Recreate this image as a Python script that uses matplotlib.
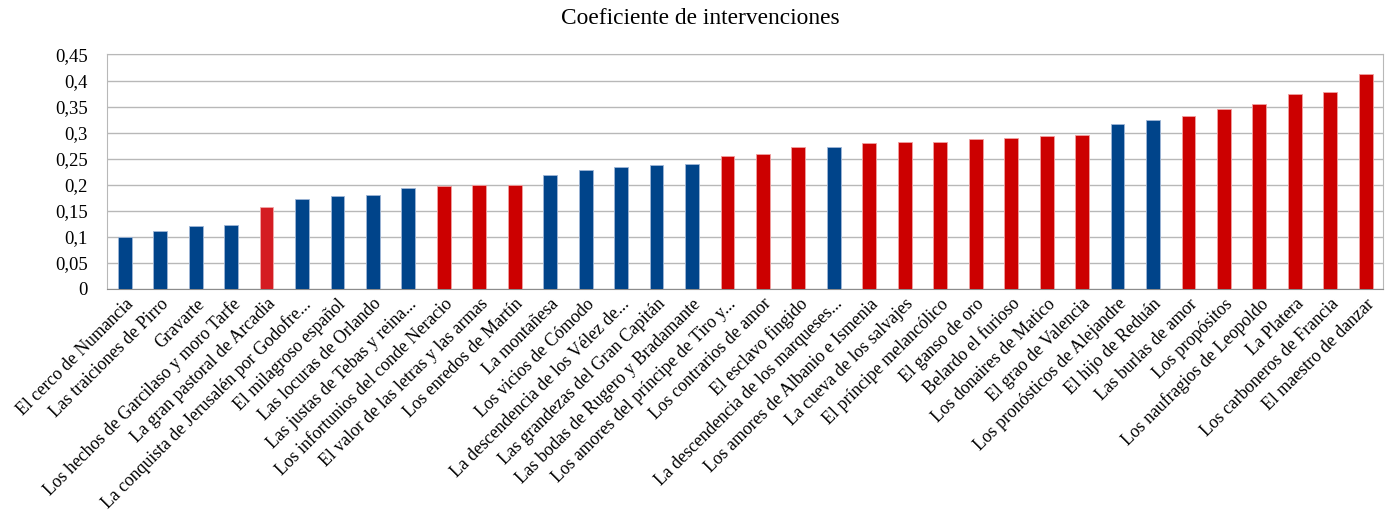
import matplotlib.pyplot as plt
from matplotlib.ticker import MultipleLocator, FuncFormatter

titles = [
    "El cerco de Numancia", "Las traiciones de Pirro", "Gravarte",
    "Los hechos de Garcilaso y moro Tarfe", "La gran pastoral de Arcadia",
    "La conquista de Jerusalén por Godofre...", "El milagroso español",
    "Las locuras de Orlando", "Las justas de Tebas y reina...",
    "Los infortunios del conde Neracio", "El valor de las letras y las armas",
    "Los enredos de Martín", "La montañesa", "Los vicios de Cómodo",
    "La descendencia de los Vélez de...", "Las grandezas del Gran Capitán",
    "Las bodas de Rugero y Bradamante", "Los amores del príncipe de Tiro y...",
    "Los contrarios de amor", "El esclavo fingido",
    "La descendencia de los marqueses...", "Los amores de Albanio e Ismenia",
    "La cueva de los salvajes", "El príncipe melancólico", "El ganso de oro",
    "Belardo el furioso", "Los donaires de Matico", "El grao de Valencia",
    "Los pronósticos de Alejandre", "El hijo de Reduán", "Las burlas de amor",
    "Los propósitos", "Los naufragios de Leopoldo", "La Platera",
    "Los carboneros de Francia", "El maestro de danzar",
]
coef = [
    0.100, 0.110, 0.120, 0.123, 0.156, 0.172, 0.177, 0.179, 0.194, 0.197,
    0.200, 0.200, 0.219, 0.227, 0.233, 0.237, 0.240, 0.255, 0.258, 0.272,
    0.272, 0.280, 0.282, 0.282, 0.288, 0.290, 0.293, 0.295, 0.317, 0.324,
    0.331, 0.345, 0.354, 0.374, 0.378, 0.412,
]
# grupo de cada obra: "a" azul, "r" rojo, "r2" rojo claro
grupo = [
    "a", "a", "a", "a", "r2", "a", "a", "a", "a", "r",
    "r", "r", "a", "a", "a", "a", "a", "r", "r", "r",
    "a", "r", "r", "r", "r", "r", "r", "r", "a", "a",
    "r", "r", "r", "r", "r", "r",
]

colores = {"a": "#00448a", "r": "#cc0000", "r2": "#d41c22"}
bordes = {"a": "#9fb6d6", "r": "#f0a0a0", "r2": "#f0a8a8"}

plt.rcParams["font.family"] = ["Liberation Serif", "DejaVu Serif"]

fig, ax = plt.subplots(figsize=(13.89, 5.19), dpi=100)
fig.subplots_adjust(left=0.077, right=0.996, top=0.895, bottom=0.444)

x = list(range(len(titles)))
ax.bar(x, coef, width=0.39,
       color=[colores[g] for g in grupo],
       edgecolor=[bordes[g] for g in grupo], linewidth=0.6, zorder=3)

ax.set_xlim(-0.5, len(titles) - 0.5)
ax.set_ylim(0, 0.45)
ax.yaxis.set_major_locator(MultipleLocator(0.05))
ax.yaxis.set_major_formatter(FuncFormatter(
    lambda v, _: "0" if abs(v) < 1e-9 else f"{v:.2f}".rstrip("0").replace(".", ",")))
ax.grid(axis="y", color="#b8b8b8", linewidth=1.0, zorder=0)

for side in ["top", "right", "left"]:
    ax.spines[side].set_color("#b8b8b8")
ax.spines["bottom"].set_color("#8c8c8c")

ax.tick_params(axis="y", length=0, labelsize=13.5, pad=14, colors="black")
ax.set_xticks(x)
ax.set_xticklabels(titles, rotation=45, ha="right", rotation_mode="anchor")
ax.tick_params(axis="x", length=0, labelsize=12.8, pad=5, colors="black")

fig.suptitle("Coeficiente de intervenciones", fontsize=16.8, x=0.504, y=0.985)

fig.savefig("out.png", dpi=100)
